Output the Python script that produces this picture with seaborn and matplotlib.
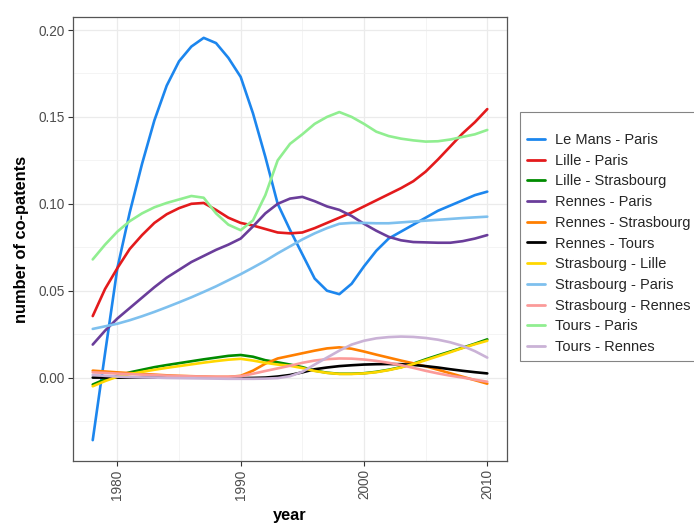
import pandas as pd
import seaborn as sns
import matplotlib.pyplot as plt
from matplotlib.ticker import MultipleLocator, FormatStrFormatter

years = list(range(1978, 2011))

le_mans_paris = [-0.036, 0.014, 0.063, 0.095, 0.123, 0.148, 0.168, 0.182, 0.1905, 0.1955, 0.1925,
                 0.184, 0.173, 0.152, 0.127, 0.100, 0.085, 0.071, 0.057, 0.050, 0.048, 0.054,
                 0.064, 0.073, 0.080, 0.084, 0.088, 0.092, 0.096, 0.099, 0.102, 0.105, 0.107]
lille_paris = [0.0354, 0.051, 0.063, 0.074, 0.082, 0.089, 0.094, 0.0975, 0.100, 0.1005, 0.0965,
               0.092, 0.089, 0.0875, 0.0855, 0.0835, 0.083, 0.0835, 0.086, 0.089, 0.092, 0.095,
               0.0985, 0.102, 0.1055, 0.109, 0.113, 0.1185, 0.1255, 0.133, 0.1405, 0.147, 0.1545]
lille_strasbourg = [-0.004, -0.001, 0.001, 0.003, 0.0045, 0.006, 0.0072, 0.0083, 0.0094, 0.0105,
                    0.0115, 0.0125, 0.013, 0.012, 0.010, 0.0088, 0.0075, 0.006, 0.004, 0.0028,
                    0.0022, 0.0022, 0.0025, 0.0033, 0.0045, 0.006, 0.008, 0.0105, 0.0128, 0.015,
                    0.0172, 0.0195, 0.022]
rennes_paris = [0.019, 0.027, 0.034, 0.040, 0.046, 0.052, 0.0575, 0.062, 0.0665, 0.070, 0.0735,
                0.0765, 0.080, 0.087, 0.0945, 0.100, 0.103, 0.104, 0.1015, 0.0985, 0.0965, 0.093,
                0.0885, 0.0845, 0.081, 0.079, 0.078, 0.0778, 0.0776, 0.0776, 0.0785, 0.080, 0.082]
rennes_strasbourg = [0.004, 0.0035, 0.003, 0.0026, 0.0021, 0.0017, 0.0013, 0.001, 0.0008, 0.0006,
                     0.0004, 0.0004, 0.001, 0.004, 0.008, 0.011, 0.0125, 0.014, 0.0155, 0.0168,
                     0.0174, 0.0166, 0.015, 0.0132, 0.0115, 0.0098, 0.0082, 0.0065, 0.0045, 0.0025,
                     0.0005, -0.0015, -0.0035]
rennes_tours = [0.0, 0.0, 0.0, 0.0, 0.0, 0.0, 0.0, 0.0, 0.0, 0.0, 0.0, -0.0002, -0.0003, -0.0002,
                0.0, 0.0006, 0.0015, 0.003, 0.0048, 0.0058, 0.0066, 0.0071, 0.0075, 0.0077, 0.0078,
                0.0077, 0.0073, 0.0066, 0.0058, 0.0048, 0.0039, 0.0031, 0.0024]
strasbourg_lille = [-0.005, -0.002, 0.0005, 0.002, 0.0033, 0.0045, 0.0056, 0.0066, 0.0076, 0.0086,
                    0.0095, 0.0103, 0.0108, 0.0098, 0.0085, 0.0075, 0.0068, 0.0055, 0.0038, 0.0027,
                    0.0021, 0.0021, 0.0024, 0.0031, 0.0043, 0.0058, 0.0078, 0.010, 0.0123, 0.0146,
                    0.017, 0.0192, 0.0212]
strasbourg_paris = [0.028, 0.0295, 0.031, 0.033, 0.0353, 0.0378, 0.0405, 0.0433, 0.0462, 0.0493,
                    0.0525, 0.056, 0.0595, 0.0633, 0.0672, 0.0715, 0.0755, 0.0795, 0.083, 0.086,
                    0.0885, 0.089, 0.089, 0.0888, 0.0888, 0.0893, 0.0898, 0.0903, 0.0908, 0.0913,
                    0.0918, 0.0922, 0.0926]
strasbourg_rennes = [0.003, 0.0027, 0.0023, 0.002, 0.0017, 0.0014, 0.0011, 0.0009, 0.0007, 0.0006,
                     0.0005, 0.0005, 0.0008, 0.0022, 0.0038, 0.0053, 0.0068, 0.0085, 0.0098, 0.0106,
                     0.011, 0.0109, 0.0104, 0.0096, 0.0085, 0.0072, 0.0056, 0.0039, 0.0024, 0.0011,
                     0.0, -0.0012, -0.0024]
tours_paris = [0.068, 0.0765, 0.084, 0.090, 0.0945, 0.098, 0.1005, 0.1025, 0.1045, 0.1035, 0.0945,
               0.088, 0.0848, 0.0905, 0.105, 0.125, 0.1345, 0.140, 0.146, 0.150, 0.1528, 0.150,
               0.146, 0.1415, 0.139, 0.1375, 0.1365, 0.1358, 0.136, 0.137, 0.1385, 0.140, 0.1425]
tours_rennes = [0.0015, 0.001, 0.0006, 0.0003, 0.0001, 0.0, -0.0002, -0.0003, -0.0004, -0.0005,
                -0.0006, -0.0007, -0.0007, -0.0007, -0.0006, -0.0003, 0.0008, 0.0033, 0.0075,
                0.0115, 0.0155, 0.019, 0.0212, 0.0226, 0.0233, 0.0236, 0.0234, 0.0228, 0.0218,
                0.0203, 0.0182, 0.0152, 0.0115]

pairs = ["Le Mans - Paris", "Lille - Paris", "Lille - Strasbourg", "Rennes - Paris",
         "Rennes - Strasbourg", "Rennes - Tours", "Strasbourg - Lille", "Strasbourg - Paris",
         "Strasbourg - Rennes", "Tours - Paris", "Tours - Rennes"]
series = [le_mans_paris, lille_paris, lille_strasbourg, rennes_paris, rennes_strasbourg,
          rennes_tours, strasbourg_lille, strasbourg_paris, strasbourg_rennes, tours_paris,
          tours_rennes]
colors = ["#1C86EE", "#E31A1C", "#008B00", "#6A3D9A", "#FF7F00", "#000000", "#FFD700",
          "#7EC0EE", "#FB9A99", "#90EE90", "#CAB2D6"]

sns.set_theme(style="white")
plt.rcParams['font.family'] = ['Liberation Sans', 'DejaVu Sans']

df = pd.concat([pd.DataFrame({"year": years, "value": v, "pair": p})
                for p, v in zip(pairs, series)], ignore_index=True)

fig = plt.figure(figsize=(6.94, 5.27), dpi=100)
ax = fig.add_axes([73 / 694, 1 - 461 / 527, (507 - 73) / 694, (461 - 17) / 527])

sns.lineplot(data=df, x="year", y="value", hue="pair", hue_order=pairs,
             palette=dict(zip(pairs, colors)), linewidth=1.9, errorbar=None, ax=ax)

ax.set_xlim(1976.4, 2011.6)
ax.set_ylim(-0.048, 0.2075)
ax.xaxis.set_major_locator(MultipleLocator(10))
ax.xaxis.set_minor_locator(MultipleLocator(5))
ax.yaxis.set_major_locator(MultipleLocator(0.05))
ax.yaxis.set_minor_locator(MultipleLocator(0.025))
ax.yaxis.set_major_formatter(FormatStrFormatter('%.2f'))
ax.grid(which='major', color='#EBEBEB', linewidth=0.9)
ax.grid(which='minor', color='#F3F3F3', linewidth=0.6)
ax.set_axisbelow(True)
for s in ax.spines.values():
    s.set_color('#555555')
    s.set_linewidth(0.9)
ax.tick_params(which='major', direction='out', length=3.5, width=0.8, color='#333333',
               labelcolor='#4D4D4D', labelsize=9.8, pad=2.5, bottom=True, left=True)
ax.tick_params(which='minor', length=0)
plt.setp(ax.get_xticklabels(), rotation=90, va='top', ha='center')

ax.set_xlabel("year", fontsize=11.8, fontweight='bold', color='black', labelpad=6)
ax.set_ylabel("number of co-patents", fontsize=11.8, fontweight='bold', color='black', labelpad=7)

handles, labels = ax.get_legend_handles_labels()
ax.get_legend().remove()
for h in handles:
    h.set_linewidth(2)
leg = fig.legend(handles, labels, loc='upper left', bbox_to_anchor=(520 / 694, 1 - 112 / 527),
                 frameon=True, fancybox=False, title=' ', title_fontsize=6, fontsize=10.5,
                 handlelength=1.2, handletextpad=0.7, labelspacing=0.46, borderpad=0.5,
                 borderaxespad=0)
leg.get_frame().set_edgecolor('#666666')
leg.get_frame().set_linewidth(0.8)

fig.savefig("out.png", dpi=100)
